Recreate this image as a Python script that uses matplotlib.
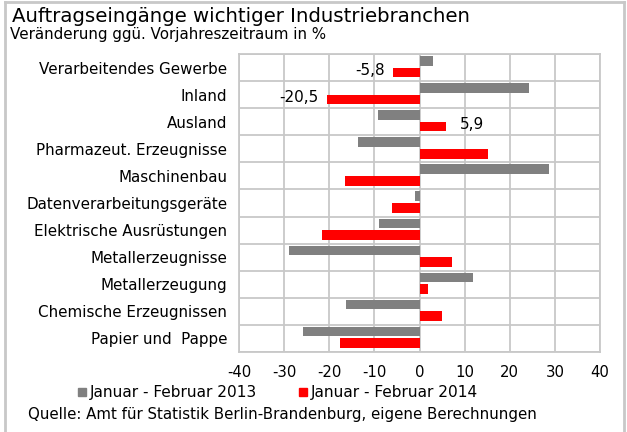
import numpy as np
import matplotlib.pyplot as plt
from matplotlib.lines import Line2D

plt.rcParams['font.family'] = ['DejaVu Sans']

categories = ['Verarbeitendes Gewerbe', 'Inland', 'Ausland', 'Pharmazeut. Erzeugnisse',
              'Maschinenbau', 'Datenverarbeitungsgeräte', 'Elektrische Ausrüstungen',
              'Metallerzeugnisse', 'Metallerzeugung', 'Chemische Erzeugnissen',
              'Papier und  Pappe']
v2013 = [3.0, 24.2, -9.3, -13.7, 28.6, -1.0, -9.0, -29.0, 11.8, -16.2, -25.9]
v2014 = [-5.8, -20.5, 5.9, 15.1, -16.6, -6.0, -21.7, 7.1, 1.8, 4.9, -17.7]
labelled = {0: '-5,8', 1: '-20,5', 2: '5,9'}
xticks = [-40, -30, -20, -10, 0, 10, 20, 30, 40]

grey = '#808080'
red = '#ff0000'
gridc = '#c8c8c8'

fig = plt.figure(figsize=(6.27, 4.32), dpi=100)
W, H = 627, 432
ax = fig.add_axes([239 / W, 1 - 352 / H, (600 - 239) / W, (352 - 54) / H])

n = len(categories)
y = np.arange(n)
ax.barh(y - 0.25, v2013, height=0.35, color=grey, zorder=3)
ax.barh(y + 0.18, v2014, height=0.36, color=red, zorder=3)

for i, txt in labelled.items():
    v = v2014[i]
    if v < 0:
        ax.text(v - 1.8, y[i] + 0.1, txt, ha='right', va='center', fontsize=11)
    else:
        ax.text(v + 3.0, y[i] + 0.12, txt, ha='left', va='center', fontsize=11)

ax.set_xlim(-40, 40)
ax.set_ylim(n - 0.5, -0.5)
ax.set_xticks(xticks)
ax.set_xticklabels([str(t) for t in xticks], fontsize=10.7)
ax.set_yticks(y)
ax.set_yticklabels(categories, fontsize=10.9)
ax.set_yticks(np.arange(n + 1) - 0.5, minor=True)
ax.tick_params(axis='both', which='both', length=0)
ax.tick_params(axis='x', pad=9.5)
ax.tick_params(axis='y', pad=8.5)
ax.grid(axis='x', color=gridc, linewidth=1.3, zorder=0)
ax.grid(axis='y', which='minor', color=gridc, linewidth=1.3, zorder=0)
for s in ax.spines.values():
    s.set_color(gridc)
    s.set_linewidth(1.3)

fig.text(12 / W, 1 - 17 / H, 'Auftragseingänge wichtiger Industriebranchen', fontsize=14.2,
         va='center', ha='left')
fig.text(10 / W, 1 - 34 / H, 'Veränderung ggü. Vorjahreszeitraum in %', fontsize=10.9,
         va='center', ha='left')

handles = [Line2D([], [], marker='s', linestyle='', color=grey, markersize=6),
           Line2D([], [], marker='s', linestyle='', color=red, markersize=6)]
fig.legend(handles, ['Januar - Februar 2013', 'Januar - Februar 2014'],
           loc='center left', bbox_to_anchor=(77 / W, 1 - 393 / H), ncol=2,
           frameon=False, fontsize=11.1, handletextpad=0.2, columnspacing=2.7,
           handlelength=0.6, borderaxespad=0, borderpad=0)
fig.text(28 / W, 1 - 414 / H, 'Quelle: Amt für Statistik Berlin-Brandenburg, eigene Berechnungen',
         fontsize=10.8, va='center', ha='left')

# outer frame
fig.add_artist(Line2D([5 / W, 5 / W], [0, 1 - 2 / H], color=gridc, lw=2))
fig.add_artist(Line2D([5 / W, 624 / W], [1 - 2 / H, 1 - 2 / H], color=gridc, lw=2))
fig.add_artist(Line2D([624 / W, 624 / W], [0, 1 - 2 / H], color=gridc, lw=2))

fig.savefig('out.png', dpi=100)
